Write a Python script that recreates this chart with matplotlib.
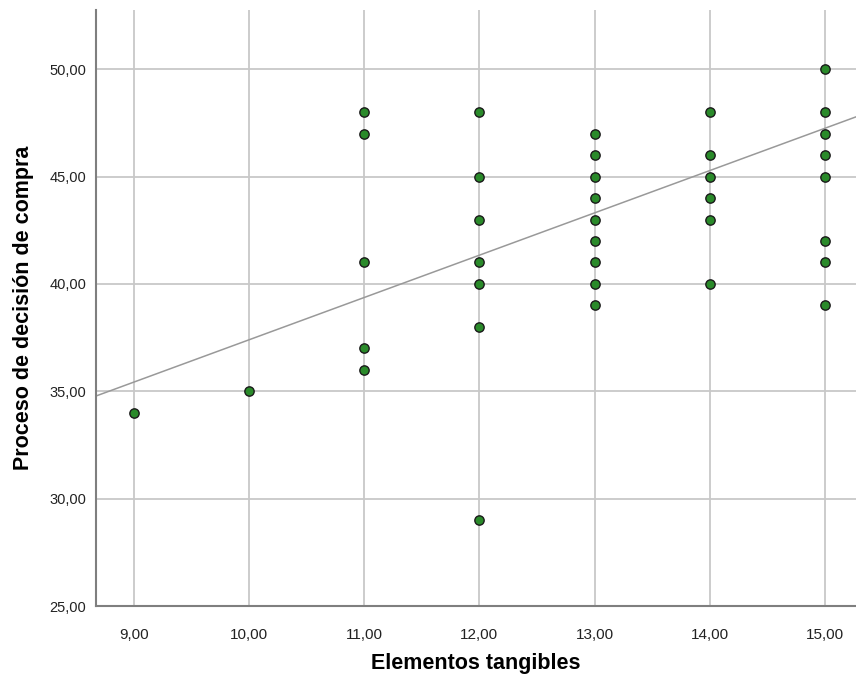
import matplotlib
matplotlib.use("Agg")
import matplotlib.pyplot as plt
from matplotlib.ticker import FuncFormatter

plt.rcParams["font.family"] = ["Liberation Sans", "DejaVu Sans"]

# Data: Elementos tangibles vs Proceso de decisión de compra
tangibles = [9, 10,
             11, 11, 11, 11, 11,
             12, 12, 12, 12, 12, 12, 12,
             13, 13, 13, 13, 13, 13, 13, 13, 13,
             14, 14, 14, 14, 14, 14,
             15, 15, 15, 15, 15, 15, 15, 15]
decision = [34, 35,
            48, 47, 41, 37, 36,
            48, 45, 43, 41, 40, 38, 29,
            47, 46, 45, 44, 43, 42, 41, 40, 39,
            48, 46, 45, 44, 43, 40,
            50, 48, 47, 46, 45, 42, 41, 39]

# Fit line
fit_intercept = 17.7
fit_slope = 1.97

xticks = [9, 10, 11, 12, 13, 14, 15]
yticks = [25, 30, 35, 40, 45, 50]
xlim = (8.67, 15.27)
ylim = (25, 52.75)

GRID = "#c8c8c8"
SPINE = "#7f7f7f"
POINT = "#2a8a2a"

fig = plt.figure(figsize=(8.56, 6.79), dpi=100)
ax = fig.add_axes([0.1121, 0.1075, 0.8879, 0.8775])

ax.set_xlim(*xlim)
ax.set_ylim(*ylim)
ax.set_xticks(xticks)
ax.set_yticks(yticks)
fmt = FuncFormatter(lambda v, p: f"{v:.2f}".replace(".", ","))
ax.xaxis.set_major_formatter(fmt)
ax.yaxis.set_major_formatter(fmt)
ax.grid(True, color=GRID, linewidth=1.3, zorder=0)
ax.tick_params(length=0, colors="#222222")
ax.tick_params(axis="x", labelsize=11, pad=16)
ax.tick_params(axis="y", labelsize=10.5, pad=7)

for s in ("top", "right"):
    ax.spines[s].set_visible(False)
ax.spines["left"].set_color(SPINE)
ax.spines["bottom"].set_color(SPINE)
ax.spines["left"].set_linewidth(1.5)
ax.spines["bottom"].set_linewidth(1.5)

xs = [xlim[0], xlim[1]]
ax.plot(xs, [fit_intercept + fit_slope * x for x in xs], color="#999999",
        linewidth=1.1, zorder=2)

ax.scatter(tangibles, decision, s=45, color=POINT, edgecolors="#1a1a1a",
           linewidths=1.0, zorder=3, clip_on=False)

ax.set_xlabel("Elementos tangibles", fontsize=15.5, fontweight="bold", labelpad=8)
ax.set_ylabel("Proceso de decisión de compra", fontsize=15.5, fontweight="bold",
              labelpad=11)

fig.savefig("out.png", dpi=100, facecolor="white")
